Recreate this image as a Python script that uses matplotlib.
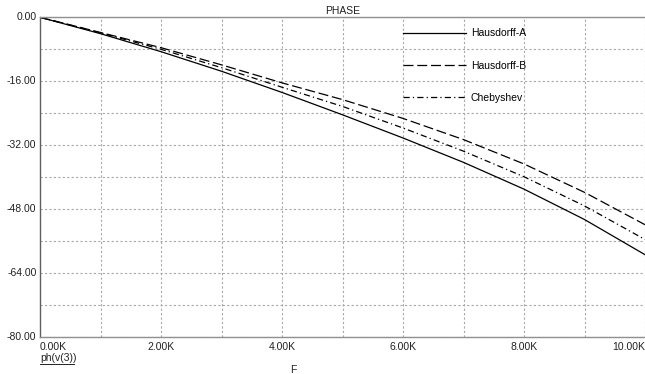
import matplotlib
matplotlib.use('Agg')
import matplotlib.pyplot as plt

plt.rcParams['font.family'] = ['Liberation Sans', 'DejaVu Sans']

# Phase response ph(v(3)) vs frequency (kHz)
freq_k = [0, 1, 2, 3, 4, 5, 6, 7, 8, 9, 10]
phase_hausdorff_a = [0, -4.1, -8.6, -13.5, -18.8, -24.4, -30.2, -36.3, -43.0, -50.6, -59.4]
phase_hausdorff_b = [0, -3.8, -7.6, -11.9, -16.4, -20.6, -25.3, -30.6, -36.7, -43.8, -51.9]
phase_chebyshev = [0, -3.9, -8.0, -12.6, -17.5, -22.3, -27.7, -33.5, -39.9, -47.2, -55.6]

x_ticks = [0, 2, 4, 6, 8, 10]
x_ticklabels = ['0.00K', '2.00K', '4.00K', '6.00K', '8.00K', '10.00K']
y_ticks = [0, -16, -32, -48, -64, -80]
y_ticklabels = ['0.00', '-16.00', '-32.00', '-48.00', '-64.00', '-80.00']

fig = plt.figure(figsize=(6.45, 3.74), dpi=100)
ax = fig.add_axes([40 / 645, 1 - 337 / 374, 1 - 40 / 645, (337 - 17.3) / 374])

ax.plot(freq_k, phase_hausdorff_a, color='black', lw=0.9, label='Hausdorff-A')
ax.plot(freq_k, phase_hausdorff_b, color='black', lw=0.9, dashes=(8, 3), label='Hausdorff-B')
ax.plot(freq_k, phase_chebyshev, color='black', lw=0.9, dashes=(5, 2.5, 1, 2.5), label='Chebyshev')

ax.set_xlim(0, 10)
ax.set_ylim(-80, 0)

# dotted grid every 1K / 8 degrees
ax.set_xticks(range(0, 11))
ax.set_yticks(range(-80, 1, 8))
ax.grid(True, color='#a8a8a8', lw=0.8, linestyle=(0, (2, 2)))
ax.tick_params(length=0, labelbottom=False, labelleft=False)

for v, lab in zip(x_ticks, x_ticklabels):
    ha = 'center'
    if v == x_ticks[0]:
        ha = 'left'
    elif v == x_ticks[-1]:
        ha = 'right'
    ax.annotate(lab, xy=(v, 0), xycoords=('data', 'axes fraction'), xytext=(0, -7),
                textcoords='offset points', ha=ha, va='center', fontsize=7.5, color='#222222')
for v, lab in zip(y_ticks, y_ticklabels):
    ax.annotate(lab, xy=(0, v), xycoords=('axes fraction', 'data'), xytext=(-2.5, 0),
                textcoords='offset points', ha='right', va='center', fontsize=7.5, color='#222222')

for side in ['left', 'bottom', 'top']:
    ax.spines[side].set_color('#909090')
    ax.spines[side].set_linewidth(1.0)
ax.spines['left'].set_color('#606060')
ax.spines['right'].set_visible(False)

fig.text(342.5 / 645, 1 - 11 / 374, 'PHASE', ha='center', va='center', fontsize=7.5, color='#222222')
fig.text(40 / 645, 1 - 358 / 374, 'ph(v(3))', ha='left', va='center', fontsize=7.5, color='#222222')
# underline under the trace name
fig.lines.append(plt.Line2D([40 / 645, 74 / 645], [1 - 364 / 374, 1 - 364 / 374],
                            transform=fig.transFigure, color='#222222', lw=0.7))
fig.text(293 / 645, 1 - 370 / 374, 'F', ha='center', va='center', fontsize=7.5, color='#222222')

ax.legend(loc='upper left', bbox_to_anchor=(0.6, 0.966), frameon=False, fontsize=7.5,
          handlelength=6.0, handletextpad=0.5, labelspacing=2.15, borderaxespad=0,
          borderpad=0)

fig.savefig('out.png', dpi=100)
